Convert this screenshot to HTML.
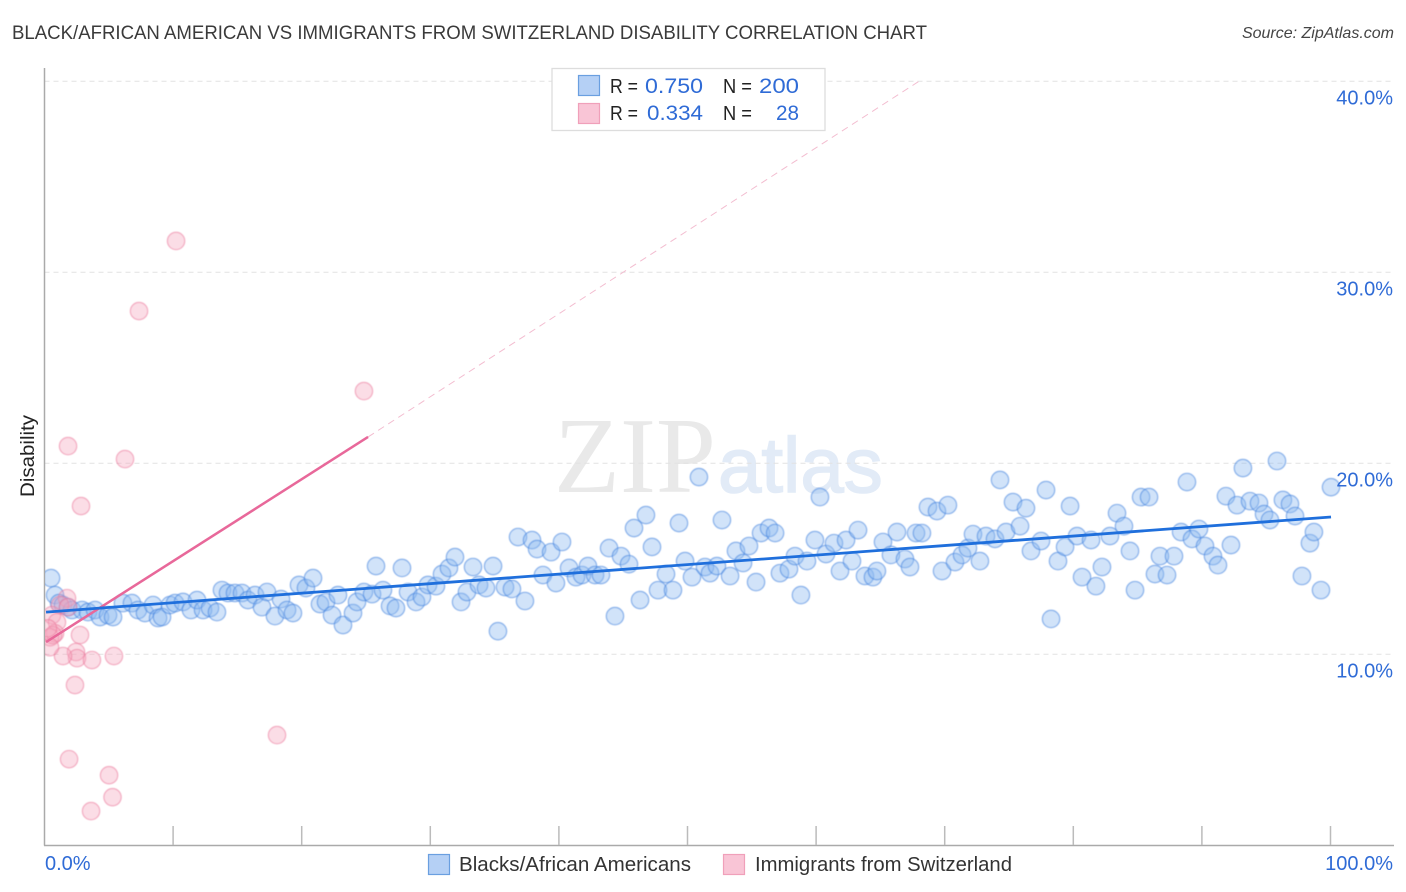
<!DOCTYPE html>
<html><head><meta charset="utf-8"><title>Disability correlation chart</title>
<style>
html,body{margin:0;padding:0;background:#fff;width:1406px;height:892px;overflow:hidden}
svg{display:block}
text{font-family:"Liberation Sans",sans-serif}
</style></head>
<body>
<svg id="chart" xmlns="http://www.w3.org/2000/svg" width="1406" height="892" viewBox="0 0 1406 892">
<defs><clipPath id="plot-clip"><rect x="45" y="60" width="1350" height="785"/></clipPath></defs>
<text x="12" y="39" font-size="19" fill="#3a3a3a" textLength="915" lengthAdjust="spacingAndGlyphs">BLACK/AFRICAN AMERICAN VS IMMIGRANTS FROM SWITZERLAND DISABILITY CORRELATION CHART</text>
<text x="1394" y="38" font-size="16" font-style="italic" fill="#444" text-anchor="end">Source: ZipAtlas.com</text>
<text x="554" y="492" font-size="108" fill="#e9e9e9" style="font-family:'Liberation Serif',serif">ZIP</text>
<text x="718" y="492" font-size="78" fill="#e2ebf7" stroke="#e2ebf7" stroke-width="1.5">atlas</text>
<g id="grid"></g>
<line x1="44.5" y1="68" x2="44.5" y2="845.5" stroke="#aaa" stroke-width="1.5"/>
<line x1="44" y1="845.5" x2="1394" y2="845.5" stroke="#aaa" stroke-width="1.5"/>
<g id="ticks"></g>
<g id="points" clip-path="url(#plot-clip)" style="filter:blur(0.4px)"></g>
<g id="trends" clip-path="url(#plot-clip)"></g>
<g id="labels"></g>
<text transform="translate(34 456) rotate(-90)" font-size="19" fill="#222" text-anchor="middle" textLength="82" lengthAdjust="spacingAndGlyphs">Disability</text>
<g>
<rect x="552" y="68.5" width="273" height="62" fill="#fff" stroke="#ddd" stroke-width="1.3"/>
<rect x="578.5" y="75.5" width="21" height="20" fill="#b5d0f5" stroke="#6a9fe0" stroke-width="1.2"/>
<rect x="578.5" y="103.5" width="21" height="20" fill="#f9c5d6" stroke="#f0a0ba" stroke-width="1.2"/>
<text x="610" y="93" font-size="20.5" fill="#222" textLength="28" lengthAdjust="spacingAndGlyphs">R =</text>
<text x="645" y="93" font-size="21.5" fill="#2f6bd6" textLength="58" lengthAdjust="spacingAndGlyphs">0.750</text>
<text x="723" y="93" font-size="20.5" fill="#222" textLength="29" lengthAdjust="spacingAndGlyphs">N =</text>
<text x="759" y="93" font-size="21.5" fill="#2f6bd6" textLength="40" lengthAdjust="spacingAndGlyphs">200</text>
<text x="610" y="120" font-size="20.5" fill="#222" textLength="28" lengthAdjust="spacingAndGlyphs">R =</text>
<text x="647" y="120" font-size="21.5" fill="#2f6bd6" textLength="56" lengthAdjust="spacingAndGlyphs">0.334</text>
<text x="723" y="120" font-size="20.5" fill="#222" textLength="29" lengthAdjust="spacingAndGlyphs">N =</text>
<text x="776" y="120" font-size="21.5" fill="#2f6bd6" textLength="23" lengthAdjust="spacingAndGlyphs">28</text>
</g>
<g>
<rect x="428.5" y="854.5" width="21" height="20" fill="#b5d0f5" stroke="#6a9fe0" stroke-width="1.2"/>
<text x="459" y="871" font-size="20" fill="#333" textLength="232" lengthAdjust="spacingAndGlyphs">Blacks/African Americans</text>
<rect x="723.5" y="854.5" width="21" height="20" fill="#f9c5d6" stroke="#f0a0ba" stroke-width="1.2"/>
<text x="755" y="871" font-size="20" fill="#333" textLength="257" lengthAdjust="spacingAndGlyphs">Immigrants from Switzerland</text>
</g>
</svg>
<script>
const yTickValues = [10, 20, 30, 40];
const yTickLabels = ['10.0%', '20.0%', '30.0%', '40.0%'];
const xTickValues = [0, 10, 20, 30, 40, 50, 60, 70, 80, 90, 100];
const xEndLabels = ['0.0%', '100.0%'];
const blueX = [0.51,0.82,1.13,1.44,1.83,2.14,2.92,3.38,3.93,4.32,4.94,5.33,6.10,6.80,7.27,7.81,8.44,8.83,9.14,9.76,10.15,10.77,11.39,11.86,12.33,12.87,13.41,13.80,14.27,14.81,15.36,15.82,16.37,16.91,17.30,17.92,18.39,18.86,19.32,19.79,20.33,20.88,21.42,21.89,22.36,22.82,23.21,23.99,24.30,24.84,25.47,26.32,25.78,26.87,27.33,27.80,28.27,28.89,29.35,29.82,30.44,30.91,31.45,31.92,32.39,32.85,33.32,33.79,34.33,34.88,35.26,35.81,36.35,37.36,36.82,37.91,38.30,38.76,39.39,39.77,40.24,40.79,41.33,41.80,42.26,42.81,43.27,43.90,44.36,44.83,45.45,45.84,46.31,46.77,47.24,47.71,48.33,48.87,49.34,49.81,50.35,50.89,51.36,51.75,52.29,52.68,53.31,53.77,54.32,54.78,55.33,55.72,56.34,56.81,57.19,57.89,58.36,58.82,59.29,59.91,60.30,60.77,61.39,61.86,62.33,62.79,63.26,63.80,64.42,64.73,65.20,65.82,66.29,66.91,67.30,67.77,68.23,68.70,69.40,69.79,70.25,70.80,71.35,71.81,72.20,72.74,73.21,73.91,74.30,74.77,75.31,75.86,76.32,76.71,77.49,77.88,78.27,78.81,79.36,79.75,80.29,80.68,81.38,81.76,82.23,82.85,83.40,83.94,84.41,84.80,85.27,85.89,86.35,86.74,87.29,87.83,88.38,88.84,89.23,89.77,90.24,90.86,91.25,91.87,92.26,92.73,93.19,93.74,94.44,94.83,95.29,95.84,96.30,96.85,97.24,97.78,98.40,98.71,99.26,100.04];
const blueY = [13.99,13.10,12.68,12.58,12.47,12.32,12.32,12.21,12.32,11.95,12.05,11.95,12.68,12.68,12.32,12.16,12.58,11.90,11.95,12.58,12.68,12.74,12.32,12.84,12.32,12.42,12.21,13.36,13.21,13.21,13.21,12.84,13.10,12.47,13.26,12.00,12.89,12.32,12.16,13.63,13.47,13.99,12.63,12.74,12.05,13.10,11.53,12.16,12.74,13.26,13.15,13.36,14.62,12.53,12.42,14.52,13.26,12.74,13.00,13.63,13.57,14.20,14.52,15.09,12.74,13.26,14.57,13.63,13.47,14.62,11.21,13.52,13.42,12.79,16.14,15.98,15.51,14.15,15.35,13.73,15.88,14.52,14.04,14.15,14.62,14.15,14.15,15.56,12.00,15.14,14.72,16.61,12.84,17.29,15.62,13.36,14.20,13.36,16.87,14.88,14.04,19.28,14.57,14.25,14.62,17.03,14.10,15.41,14.78,15.67,13.78,16.35,16.61,16.35,14.25,14.46,15.14,13.10,14.88,15.98,18.23,15.25,15.82,14.36,15.98,14.88,16.50,14.10,14.04,14.36,15.88,15.20,16.40,14.99,14.57,16.35,16.35,17.71,17.50,14.36,17.81,14.83,15.20,15.56,16.29,14.88,16.19,16.04,19.13,16.40,17.97,16.71,17.65,15.41,15.93,18.60,11.85,14.88,15.62,17.76,16.19,14.04,15.98,13.57,14.57,16.19,17.39,16.71,15.41,13.36,18.23,18.23,14.20,15.14,14.15,15.14,16.40,19.02,16.04,16.56,15.67,15.14,14.67,18.28,15.72,17.81,19.75,18.02,17.92,17.34,17.03,20.12,18.08,17.87,17.24,14.10,15.82,16.40,13.36,18.75];
const pinkX = [10.23,7.35,24.84,1.83,6.26,2.84,2.76,2.45,2.53,1.44,3.69,5.40,2.37,18.08,1.91,5.02,5.29,3.62,1.75,1.21,1.83,0.58,0.97,0.82,0.43,0.66,0.43,0.27];
const pinkY = [31.64,27.97,23.78,20.90,20.22,17.76,11.01,10.12,9.80,9.91,9.70,9.91,8.39,5.77,4.51,3.67,2.52,1.79,12.94,12.58,12.47,12.05,11.68,11.10,10.89,11.00,10.37,11.36];
const blueTrendX = [0.12, 100.04];
const blueTrendY = [12.21, 17.19];
const pinkTrendX = [0.12, 25.16];
const pinkTrendY = [10.64, 21.38];
const pinkDashX = [25.16, 68.16];
const pinkDashY = [21.38, 40.07];

const NS = 'http://www.w3.org/2000/svg';
function xScale(v) { return 44.5 + v * 12.86; }
function yScale(v) { return 845.3 - v * 19.1; }
function make(tag, parentId, attrs) {
  const el = document.createElementNS(NS, tag);
  for (const k in attrs) el.setAttribute(k, attrs[k]);
  document.getElementById(parentId).appendChild(el);
  return el;
}
yTickValues.forEach(function (v, i) {
  const line = make('line', 'grid', {x1: 44.5, x2: 1394, y1: yScale(v), y2: yScale(v), stroke: '#e2e2e2', 'stroke-width': 1, 'stroke-dasharray': '5 4'});
  
  
  const label = make('text', 'labels', {x: 1393, y: yScale(v) + 23, 'font-size': 20, fill: '#2f6bd6', 'text-anchor': 'end'});
  label.textContent = yTickLabels[i];
  
  
});
xTickValues.forEach(function (v) {
  if (v === 0) return;
  const tick = make('line', 'ticks', {x1: xScale(v), x2: xScale(v), y1: 826, y2: 845, stroke: '#bbb', 'stroke-width': 1.5});
  
  
});
const xLabelLeft = make('text', 'labels', {x: 45, y: 870, 'font-size': 20, fill: '#2f6bd6'});
xLabelLeft.textContent = xEndLabels[0];


const xLabelRight = make('text', 'labels', {x: 1393, y: 870, 'font-size': 20, fill: '#2f6bd6', 'text-anchor': 'end'});
xLabelRight.textContent = xEndLabels[1];


blueX.forEach(function (v, i) {
  const c = make('circle', 'points', {cx: xScale(v), cy: yScale(blueY[i]), r: 8.7, fill: 'rgba(140,185,240,0.4)', stroke: 'rgba(60,125,220,0.55)', 'stroke-width': 1.2});
  
  
});
pinkX.forEach(function (v, i) {
  const c = make('circle', 'points', {cx: xScale(v), cy: yScale(pinkY[i]), r: 8.7, fill: 'rgba(245,165,190,0.38)', stroke: 'rgba(235,120,155,0.55)', 'stroke-width': 1.2});
  
  
});
const pinkDash = make('line', 'trends', {x1: xScale(pinkDashX[0]), y1: yScale(pinkDashY[0]), x2: xScale(pinkDashX[1]), y2: yScale(pinkDashY[1]), stroke: '#f3bdd0', 'stroke-width': 1, 'stroke-dasharray': '7 5'});


const pinkLine = make('line', 'trends', {x1: xScale(pinkTrendX[0]), y1: yScale(pinkTrendY[0]), x2: xScale(pinkTrendX[1]), y2: yScale(pinkTrendY[1]), stroke: '#e8689a', 'stroke-width': 2.5});


const blueLine = make('line', 'trends', {x1: xScale(blueTrendX[0]), y1: yScale(blueTrendY[0]), x2: xScale(blueTrendX[1]), y2: yScale(blueTrendY[1]), stroke: '#1f6fdc', 'stroke-width': 2.8});


</script>
</body></html>
